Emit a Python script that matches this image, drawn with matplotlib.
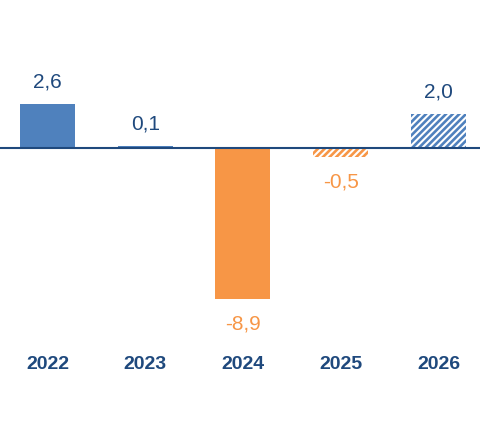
import matplotlib
matplotlib.use("Agg")
import matplotlib.pyplot as plt

years = ["2022", "2023", "2024", "2025", "2026"]
values = [2.6, 0.1, -8.9, -0.5, 2.0]
labels = ["2,6", "0,1", "-8,9", "-0,5", "2,0"]
hatched = [False, False, False, True, True]

BLUE = "#4F81BD"
ORANGE = "#F79646"
NAVY = "#1F497D"

plt.rcParams['font.family'] = ['Liberation Sans', 'DejaVu Sans']
plt.rcParams['hatch.linewidth'] = 1.9

fig = plt.figure(figsize=(4.8, 4.4), dpi=100)
ax = fig.add_axes([0, 0, 1, 1])
ax.set_xlim(-0.486, 4.425)
ax.set_ylim(-17.18, 8.71)
ax.axis('off')

for i, v in enumerate(values):
    col = BLUE if v >= 0 else ORANGE
    if hatched[i]:
        ax.bar(i, v, width=0.563, facecolor="white", edgecolor=col,
               hatch="/////", linewidth=0, zorder=2)
    else:
        ax.bar(i, v, width=0.563, color=col, linewidth=0, zorder=2)
    if v >= 0:
        ax.text(i, v + 1.3, labels[i], ha='center', va='center',
                fontsize=15, color=NAVY)
    else:
        ax.text(i, v - 1.47, labels[i], ha='center', va='center',
                fontsize=15, color=ORANGE)
    ax.text(i, -12.76, years[i], ha='center', va='center',
            fontsize=14, fontweight='bold', color=NAVY)

ax.axhline(0, color=NAVY, linewidth=1.5, zorder=3)

fig.savefig("out.png", dpi=100)
